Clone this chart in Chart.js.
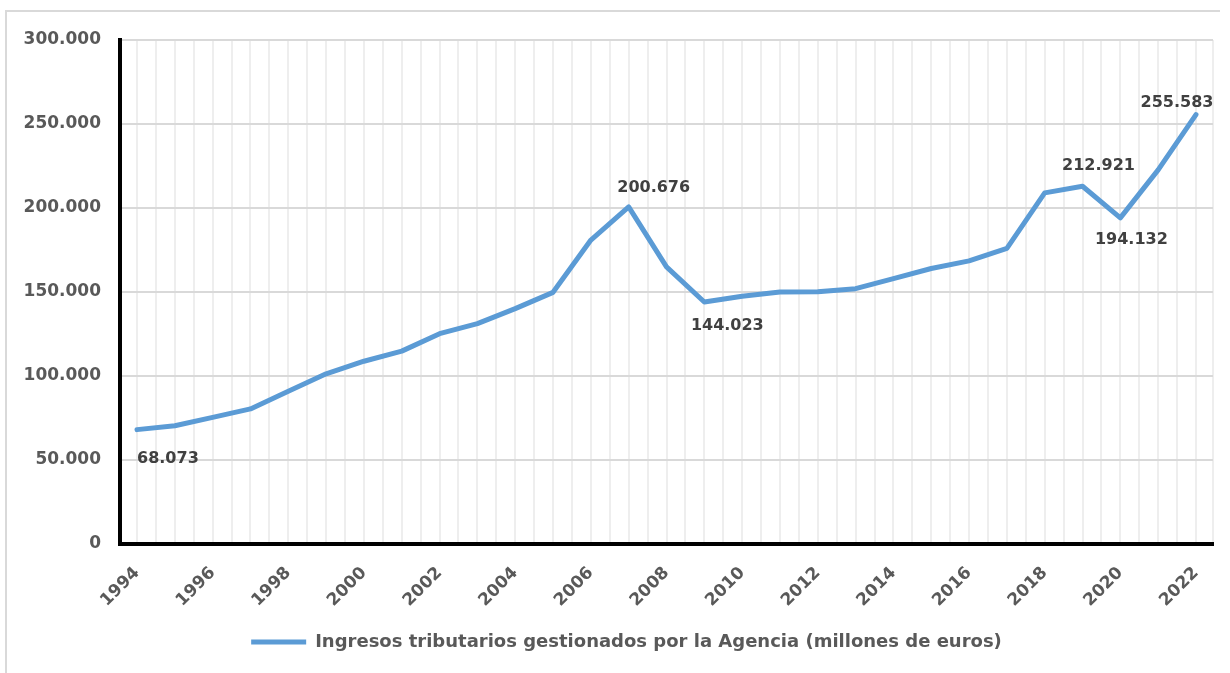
<!DOCTYPE html>
<html>
<head>
<meta charset="utf-8">
<script src="https://cdn.jsdelivr.net/npm/chart.js@4"></script>
<style>
  html, body { margin: 0; padding: 0; background: #fff; }
  #wrap { position: relative; width: 1230px; height: 673px; }
  #frame { position: absolute; left: 5px; top: 10px; width: 1215px; height: 663px;
           border-top: 2px solid #d9d9d9; border-left: 2px solid #d9d9d9; box-sizing: border-box; }
  #chart { position: absolute; left: 0; top: 0; }
</style>
</head>
<body>
<div id="wrap">
  <div id="frame"></div>
  <canvas id="chart" width="1230" height="673"></canvas>
</div>
<script>
// Données
const years = [1994, 1995, 1996, 1997, 1998, 1999, 2000, 2001, 2002, 2003, 2004, 2005, 2006, 2007,
               2008, 2009, 2010, 2011, 2012, 2013, 2014, 2015, 2016, 2017, 2018, 2019, 2020, 2021, 2022];
const ingresos = [68073, 70400, 75400, 80400, 90900, 101300, 108800, 114800, 125200, 131200, 140100, 149800, 180900, 200676,
                  165000, 144023, 147500, 150000, 150200, 152000, 158000, 164000, 168500, 176000, 209000, 212921, 194132, 222700, 255583];
const yTicks = [0, 50000, 100000, 150000, 200000, 250000, 300000];
const seriesLabel = 'Ingresos tributarios gestionados por la Agencia (millones de euros)';
// années étiquetées
const labelledYears = [1994, 2007, 2009, 2019, 2020, 2022];

// placement des étiquettes (dx, dy, align) — style seulement
const labelPlacement = {
    1994: [0, 29, 'left'],
    2007: [25, -19, 'center'],
    2009: [23, 24, 'center'],
    2019: [16, -20, 'center'],
    2020: [11, 22, 'center'],
    2022: [-19, -12, 'center']
};

const BLUE = '#5b9bd5';
const GREY = '#595959';
const FONT = '"DejaVu Sans", sans-serif';

function fmt(v) {
    return String(v).replace(/\B(?=(\d{3})+(?!\d))/g, '.');
}

// Plugin pour les étiquettes de valeurs
const valueLabels = {
    id: 'valueLabels',
    afterDatasetsDraw(chart) {
        const ctx = chart.ctx;
        const meta = chart.getDatasetMeta(0);
        ctx.save();
        ctx.font = 'bold 16px ' + FONT;
        ctx.fillStyle = '#404040';
        ctx.textBaseline = 'middle';
        labelledYears.forEach(y => {
            const i = years.indexOf(y);
            const pt = meta.data[i];
            const [dx, dy, align] = labelPlacement[y];
            ctx.textAlign = align;
            ctx.fillText(fmt(ingresos[i]), pt.x + dx, pt.y + dy);
        });
        ctx.restore();
    }
};

// Décaler la légende un peu vers la droite, comme l'original
const legendShift = {
    id: 'legendShift',
    afterLayout(chart) {
        if (chart.legend) {
            chart.legend.left += 20;
            chart.legend.right += 20;
        }
    }
};

const xMin = years[0] - 0.45;
const xMax = years[years.length - 1] + 0.45;

const ctx = document.getElementById('chart').getContext('2d');
new Chart(ctx, {
    type: 'line',
    data: {
        datasets: [{
            label: seriesLabel,
            data: years.map((y, i) => ({ x: y, y: ingresos[i] })),
            borderColor: BLUE,
            backgroundColor: BLUE,
            borderWidth: 5,
            pointRadius: 0,
            tension: 0,
            borderJoinStyle: 'round',
            borderCapStyle: 'round'
        }]
    },
    options: {
        responsive: false,
        animation: false,
        layout: { padding: { left: 0, top: 40, right: 17, bottom: 12 } },
        scales: {
            x: {
                type: 'linear',
                min: xMin,
                max: xMax,
                // une ligne de grille par année et par demi-année
                afterBuildTicks: s => {
                    const t = [{ value: xMin }];
                    years.forEach((y, i) => {
                        t.push({ value: y });
                        if (i < years.length - 1) t.push({ value: y + 0.5 });
                    });
                    t.push({ value: xMax });
                    s.ticks = t;
                },
                afterFit: s => { s.paddingLeft = 0; s.paddingRight = 0; s.height = 69; },
                grid: { color: '#eeeeee', lineWidth: 2, drawTicks: false },
                border: { color: '#000', width: 4 },
                ticks: {
                    autoSkip: false,
                    minRotation: 45,
                    maxRotation: 45,
                    padding: 19,
                    color: GREY,
                    font: { family: FONT, size: 17, weight: 'bold' },
                    callback: v => (Number.isInteger(v) && v % 2 === 0) ? String(v) : ''
                }
            },
            y: {
                min: yTicks[0],
                max: yTicks[yTicks.length - 1],
                afterBuildTicks: s => { s.ticks = yTicks.map(v => ({ value: v })); },
                afterFit: s => { s.width = 120; },
                grid: { color: '#d9d9d9', lineWidth: 2, drawTicks: false },
                border: { color: '#000', width: 4 },
                ticks: {
                    padding: 19,
                    color: GREY,
                    font: { family: FONT, size: 17, weight: 'bold' },
                    callback: v => fmt(v)
                }
            }
        },
        plugins: {
            tooltip: { enabled: false },
            legend: {
                position: 'bottom',
                labels: {
                    boxWidth: 55,
                    boxHeight: 5,
                    padding: 20,
                    color: GREY,
                    font: { family: FONT, size: 18, weight: 'bold' },
                    generateLabels: chart =>
                        Chart.defaults.plugins.legend.labels.generateLabels(chart)
                            .map(l => Object.assign(l, { lineWidth: 0 }))
                }
            }
        }
    },
    plugins: [valueLabels, legendShift]
});
</script>
</body>
</html>
